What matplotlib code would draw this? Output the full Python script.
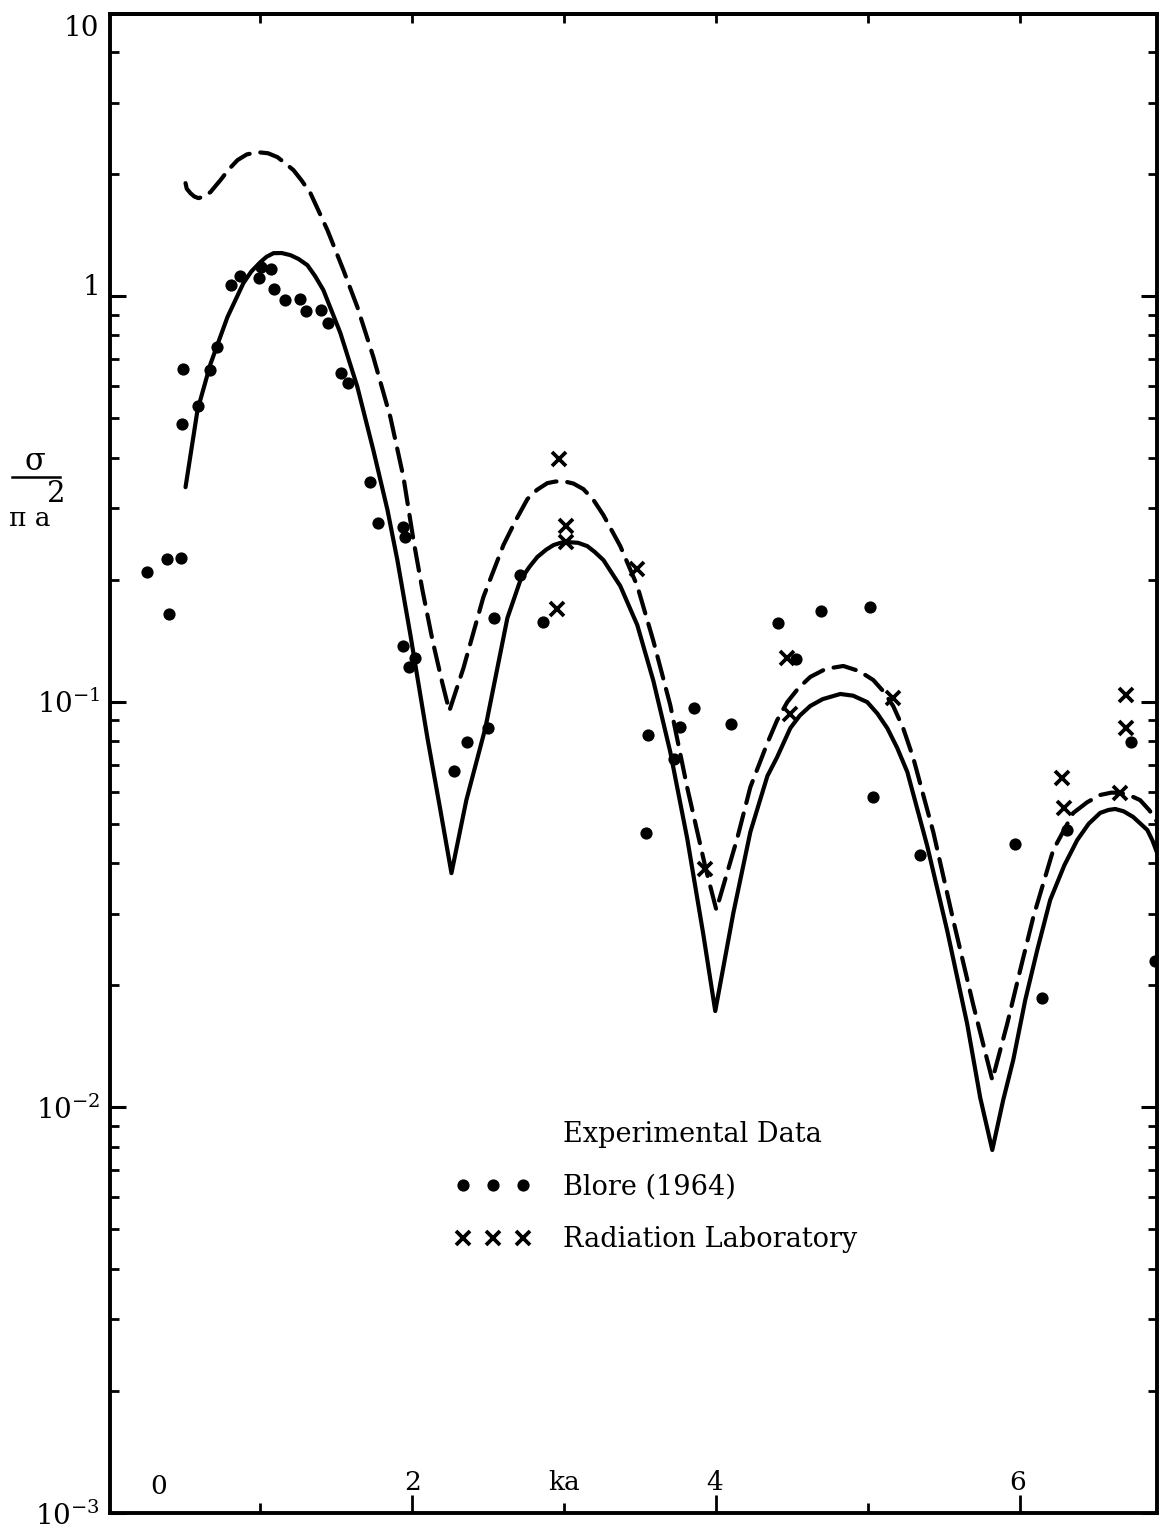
import matplotlib
matplotlib.use("Agg")
import matplotlib.pyplot as plt
from matplotlib.lines import Line2D
from matplotlib.ticker import LogLocator, NullFormatter, FixedLocator
from matplotlib.transforms import ScaledTranslation

plt.rcParams['font.family'] = ['DejaVu Serif']
plt.rcParams['mathtext.fontset'] = 'dejavuserif'

# ---- theory curves ----
solid_ka = [0.507, 0.586, 0.671, 0.783, 0.888, 0.940, 1.000, 1.040, 1.086, 1.140,
            1.197, 1.250, 1.309, 1.360, 1.414,
            1.526, 1.638, 1.743, 1.836, 1.901, 1.987, 2.099, 2.184, 2.257,
            2.355, 2.480, 2.625, 2.711, 2.770, 2.822, 2.880, 2.928, 2.975, 3.020,
            3.090, 3.151, 3.200, 3.257, 3.368,
            3.480, 3.586, 3.697, 3.809, 3.914, 3.993,
            4.112, 4.224, 4.336, 4.400, 4.487, 4.550, 4.618, 4.700, 4.816, 4.900,
            4.993, 5.060, 5.125, 5.190, 5.257, 5.388,
            5.520, 5.651, 5.737, 5.816,
            5.888, 5.954, 6.033, 6.112, 6.197, 6.290, 6.375, 6.450, 6.526, 6.580,
            6.625, 6.680, 6.743, 6.800, 6.836, 6.870, 6.901]
solid_sig = [0.338, 0.524, 0.680, 0.888, 1.077, 1.150, 1.213, 1.250, 1.276, 1.277,
             1.262, 1.235, 1.192, 1.120, 1.035,
             0.811, 0.597, 0.417, 0.297, 0.2235, 0.146, 0.0814, 0.0541, 0.0378,
             0.0572, 0.0861, 0.1608, 0.1995, 0.2150, 0.2274, 0.2370, 0.2433, 0.2465, 0.2475,
             0.2465, 0.2419, 0.2340, 0.2235, 0.1929,
             0.1545, 0.1125, 0.0752, 0.0459, 0.02676, 0.01728,
             0.03014, 0.04774, 0.06558, 0.0730, 0.0861, 0.0925, 0.0976, 0.1015, 0.1045, 0.1035,
             0.0998, 0.0935, 0.0861, 0.0770, 0.0671, 0.0441,
             0.02721, 0.01605, 0.01055, 0.00785,
             0.01043, 0.01309, 0.01839, 0.02443, 0.03245, 0.0395, 0.0456, 0.0500, 0.0532, 0.0541,
             0.0544, 0.0537, 0.0520, 0.0497, 0.0483, 0.0455, 0.0424]

dash_ka = [0.507, 0.515, 0.539, 0.565, 0.592, 0.630, 0.671, 0.700, 0.737, 0.790,
           0.849, 0.910, 0.980, 1.050, 1.112, 1.160, 1.217, 1.270, 1.329,
           1.441, 1.546, 1.638, 1.743, 1.855, 1.941, 2.007, 2.066, 2.132, 2.197, 2.243,
           2.336, 2.467, 2.599, 2.680, 2.757, 2.820, 2.888, 2.940, 2.993, 3.060, 3.125,
           3.190, 3.257, 3.368, 3.480,
           3.586, 3.697, 3.809, 3.928, 4.000,
           4.138, 4.224, 4.336, 4.400, 4.467, 4.540, 4.618, 4.720, 4.836, 4.940, 5.033,
           5.100, 5.164, 5.230, 5.296, 5.428,
           5.559, 5.691, 5.816,
           5.914, 6.000, 6.086, 6.217, 6.349, 6.440, 6.526, 6.600, 6.658, 6.720, 6.789,
           6.850, 6.901]
dash_sig = [1.899, 1.840, 1.794, 1.760, 1.744, 1.760, 1.805, 1.860, 1.932, 2.050,
            2.164, 2.235, 2.264, 2.250, 2.201, 2.130, 2.045, 1.930, 1.794,
            1.454, 1.159, 0.9395, 0.7075, 0.503, 0.358, 0.2503, 0.1885, 0.1419, 0.1112, 0.0949,
            0.1211, 0.1811, 0.2433, 0.2800, 0.3160, 0.3330, 0.3459, 0.3490, 0.3499, 0.3450, 0.3344,
            0.3150, 0.2885, 0.2419, 0.1929,
            0.1411, 0.0981, 0.0613, 0.0391, 0.0307,
            0.0461, 0.0616, 0.0791, 0.0900, 0.0998, 0.1080, 0.1151, 0.1205, 0.1225, 0.1190, 0.1131,
            0.1060, 0.0976, 0.0860, 0.0727, 0.0477,
            0.02896, 0.01788, 0.01168,
            0.01605, 0.02182, 0.02946, 0.0431, 0.0532, 0.0565, 0.0589, 0.0597, 0.0596, 0.0588, 0.0572,
            0.0540, 0.0505]

# ---- experimental data ----
blore_ka = [0.255, 0.382, 0.477, 0.399, 0.491, 0.485, 0.590, 0.666, 0.711, 0.809,
            0.868, 0.993, 1.005, 1.072, 1.092, 1.164, 1.263, 1.303, 1.399, 1.447,
            1.531, 1.577, 1.724, 1.774, 1.941, 1.954, 1.939, 1.976, 2.020, 2.276,
            2.360, 2.497, 2.535, 2.711, 2.860, 3.551, 3.539, 3.719, 3.763, 3.851,
            4.099, 4.403, 4.526, 4.689, 5.009, 5.028, 5.342, 5.967, 6.143, 6.307,
            6.728, 6.888]
blore_sig = [0.209, 0.2244, 0.2266, 0.1642, 0.660, 0.4836, 0.5356, 0.657, 0.750, 1.064,
             1.120, 1.108, 1.179, 1.166, 1.042, 0.978, 0.983, 0.920, 0.924, 0.858,
             0.647, 0.610, 0.3485, 0.276, 0.270, 0.255, 0.1372, 0.122, 0.128, 0.0675,
             0.0797, 0.0860, 0.1612, 0.2052, 0.1575, 0.0828, 0.0476, 0.0721, 0.0867, 0.0966,
             0.0883, 0.156, 0.1278, 0.1674, 0.1716, 0.0582, 0.0418, 0.0445, 0.0186, 0.0483,
             0.0794, 0.0230]

radlab_ka = [2.963, 3.013, 3.013, 2.952, 3.478, 3.928, 4.465, 4.487, 5.162,
             6.274, 6.285, 6.658, 6.697, 6.697]
radlab_sig = [0.397, 0.271, 0.248, 0.1696, 0.212, 0.0388, 0.128, 0.0933, 0.1023,
              0.0648, 0.0546, 0.0594, 0.104, 0.0863]

xticks_major = [2, 4, 6]
xticks_minor = [1, 3, 5]
xticks_top = [1, 2, 3, 4, 5, 6]
xlabels = ['0', '2', 'ka', '4', '6']
xlabel_pos = [0.33, 2.0, 3.0, 3.99, 5.98]
yticks = [1e-3, 1e-2, 1e-1, 1]
ytick_labels = ['$10^{-3}$', '$10^{-2}$', '$10^{-1}$', '1']

W, H = 1159, 1528
fig = plt.figure(figsize=(W / 100, H / 100), dpi=100)
ax = fig.add_axes([110 / W, 15 / H, (1157 - 110) / W, (1513 - 14) / H])

ax.plot(solid_ka, solid_sig, color='black', lw=3.0, solid_joinstyle='round',
        solid_capstyle='round', zorder=3)
ax.plot(dash_ka, dash_sig, color='black', lw=3.0, linestyle=(0, (5.5, 2.6)),
        dash_capstyle='round', dash_joinstyle='round', zorder=3)
ax.plot(blore_ka, blore_sig, linestyle='none', marker='o', ms=8.8,
        color='black', mec='none', zorder=4)
ax.plot(radlab_ka, radlab_sig, linestyle='none', marker='x', ms=10.5,
        mew=2.7, color='black', zorder=4)

ax.set_yscale('log')
ax.set_xlim(0.01, 6.9)
ax.set_ylim(1e-3, 4.96)

for s in ax.spines.values():
    s.set_linewidth(2.8)

ax.set_yticks(yticks)
ax.set_yticklabels(ytick_labels)
ax.yaxis.set_minor_locator(LogLocator(base=10, subs=range(2, 10), numticks=20))
ax.yaxis.set_minor_formatter(NullFormatter())
ax.tick_params(axis='y', which='major', direction='in', left=True, right=True,
               length=11.5, width=2.2, pad=7, labelsize=20)
ax.tick_params(axis='y', which='minor', direction='in', left=True, right=True,
               length=6.5, width=2.0)

ax.xaxis.set_major_locator(FixedLocator(xticks_major))
ax.xaxis.set_minor_locator(FixedLocator(xticks_minor))
ax.tick_params(axis='x', which='major', direction='in', length=13, width=2.0,
               labelbottom=False)
ax.tick_params(axis='x', which='minor', direction='in', length=7.5, width=2.0)

# raise the "1" label slightly like in the original
for lab in ax.get_yticklabels():
    if lab.get_text() == '1':
        lab.set_transform(lab.get_transform() + ScaledTranslation(0, 12 / 100, fig.dpi_scale_trans))

top = ax.secondary_xaxis('top')
top.set_xticks(xticks_top)
top.tick_params(direction='in', length=6.5, width=2.0, labeltop=False)
top.spines['top'].set_linewidth(2.8)

ax.text(-0.0105, 0.9903, '10', transform=ax.transAxes, ha='right', va='center',
        fontsize=20)

xt = ax.get_xaxis_transform()
for p, t in zip(xlabel_pos, xlabels):
    ax.text(p, 0.0205 if t != '0' else 0.0175, t, transform=xt, ha='center',
            va='center', fontsize=19)

# y label as fraction sigma / (pi a^2)
fig.text(35 / W, 1 - 461 / H, 'σ', ha='center', va='center', fontsize=22)
fig.add_artist(Line2D([12 / W, 60 / W], [1 - 477 / H, 1 - 477 / H],
                      transform=fig.transFigure, color='black', lw=1.8))
fig.text(30 / W, 1 - 518 / H, 'π a', ha='center', va='center', fontsize=19)
fig.text(56 / W, 1 - 494 / H, '2', ha='center', va='center', fontsize=21)

# legend
h0 = Line2D([], [], linestyle='none', marker='none')
h1 = Line2D([], [], linestyle='none', marker='o', ms=8.8, color='black', mec='none')
h2 = Line2D([], [], linestyle='none', marker='x', ms=10.5, mew=2.7, color='black')
leg = ax.legend([h0, h1, h2], ['Experimental Data', 'Blore (1964)', 'Radiation Laboratory'],
                numpoints=3, frameon=False, loc='upper left',
                bbox_to_anchor=(455 / W, 1 - 1121 / H), bbox_transform=fig.transFigure,
                borderpad=0, borderaxespad=0, handlelength=2.8, handletextpad=1.2,
                labelspacing=0.95, fontsize=19.5)

fig.savefig('out.png', dpi=100)
